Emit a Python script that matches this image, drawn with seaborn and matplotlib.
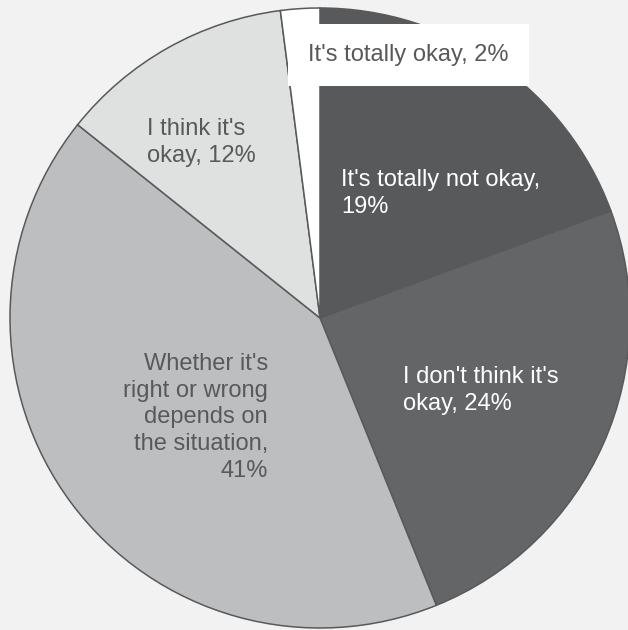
import seaborn as sns
import matplotlib.pyplot as plt

# Data
labels = ["It's totally not okay,\n19%", "I don't think it's\nokay, 24%",
          "Whether it's\nright or wrong\ndepends on\nthe situation,\n41%",
          "I think it's\nokay, 12%", "It's totally okay, 2%"]
values = [19, 24, 41, 12, 2]
colors = ["#58595b", "#636566", "#bdbec0", "#dfe0e0", "#ffffff"]

sns.set_theme(style="white")
plt.rcParams["font.family"] = ["Liberation Sans", "DejaVu Sans"]

W, H = 628, 630
fig = plt.figure(figsize=(W / 100, H / 100), dpi=100)
fig.patch.set_facecolor("#f2f2f2")
ax = fig.add_axes([0, 0, 1, 1])
ax.set_facecolor("#f2f2f2")

# pie centre (320, 318) px, radius 310 px
cx, cy, r = 320, 318, 310
ax.pie(values, colors=colors, startangle=90, counterclock=False,
       radius=1, center=(0, 0),
       wedgeprops=dict(edgecolor="#58595b", linewidth=1.1))
ax.set_xlim(-cx / r, (W - cx) / r)
ax.set_ylim(-(H - cy) / r, cy / r)
ax.set_aspect("auto")
ax.axis("off")

fs = 17
txt = "#595959"


def put(i, px, py, ha, color, **kw):
    # py = baseline of the last line
    ax.text(px / W, 1 - py / H, labels[i], transform=fig.transFigure,
            ha=ha, va="baseline", fontsize=fs, color=color,
            multialignment=ha, linespacing=1.28, **kw)


put(0, 341, 213, "left", "white")
put(1, 403, 410, "left", "white")
put(2, 268, 477, "right", txt)
put(3, 147, 162, "left", txt)
put(4, 308, 61, "left", txt,
    bbox=dict(facecolor="white", edgecolor="none", boxstyle="square,pad=0.85"))

fig.savefig("out.png", dpi=100, facecolor=fig.get_facecolor())
